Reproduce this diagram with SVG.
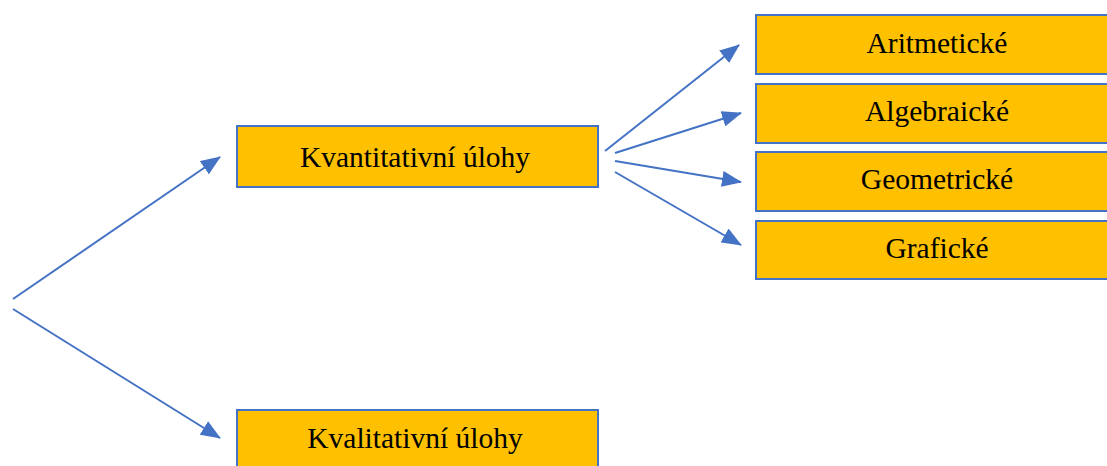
<svg xmlns="http://www.w3.org/2000/svg" width="1107" height="466" viewBox="0 0 1107 466">
<style>
.box{fill:#FFC000;stroke:#4472C4;stroke-width:2}
.lbl{font-family:"Liberation Serif","Times New Roman",serif;font-size:29.5px;fill:#000;text-anchor:middle}
.conn{stroke:#4472C4;stroke-width:2;fill:none;marker-end:url(#ah)}
</style>
<defs>
<marker id="ah" viewBox="0 0 10 8" refX="9.5" refY="4" markerWidth="10" markerHeight="8" markerUnits="strokeWidth" orient="auto">
<path d="M0,0 L10,4 L0,8 z" fill="#4472C4"/>
</marker>
</defs>
<rect width="1107" height="466" fill="#fff"/>
<g id="connectors">
<line class="conn" x1="13" y1="299" x2="220" y2="157"/>
<line class="conn" x1="13" y1="309" x2="220" y2="438"/>
<line class="conn" x1="605" y1="151" x2="739" y2="45"/>
<line class="conn" x1="615" y1="153" x2="741" y2="113"/>
<line class="conn" x1="615" y1="161" x2="741" y2="182"/>
<line class="conn" x1="615" y1="172" x2="741" y2="245"/>
</g>
<g id="kvantitativni">
<rect class="box" x="237" y="126" width="361" height="61"/>
<text class="lbl" x="415" y="167">Kvantitativní úlohy</text>
</g>
<g id="kvalitativni">
<rect class="box" x="237" y="410" width="361" height="70"/>
<text class="lbl" x="415" y="448">Kvalitativní úlohy</text>
</g>
<g id="aritmeticke">
<rect class="box" x="756" y="15" width="361" height="59"/>
<text class="lbl" x="937" y="53">Aritmetické</text>
</g>
<g id="algebraicke">
<rect class="box" x="756" y="84" width="361" height="59"/>
<text class="lbl" x="937" y="121">Algebraické</text>
</g>
<g id="geometricke">
<rect class="box" x="756" y="152" width="361" height="59"/>
<text class="lbl" x="937" y="189">Geometrické</text>
</g>
<g id="graficke">
<rect class="box" x="756" y="221" width="361" height="58"/>
<text class="lbl" x="937" y="258">Grafické</text>
</g>
</svg>
